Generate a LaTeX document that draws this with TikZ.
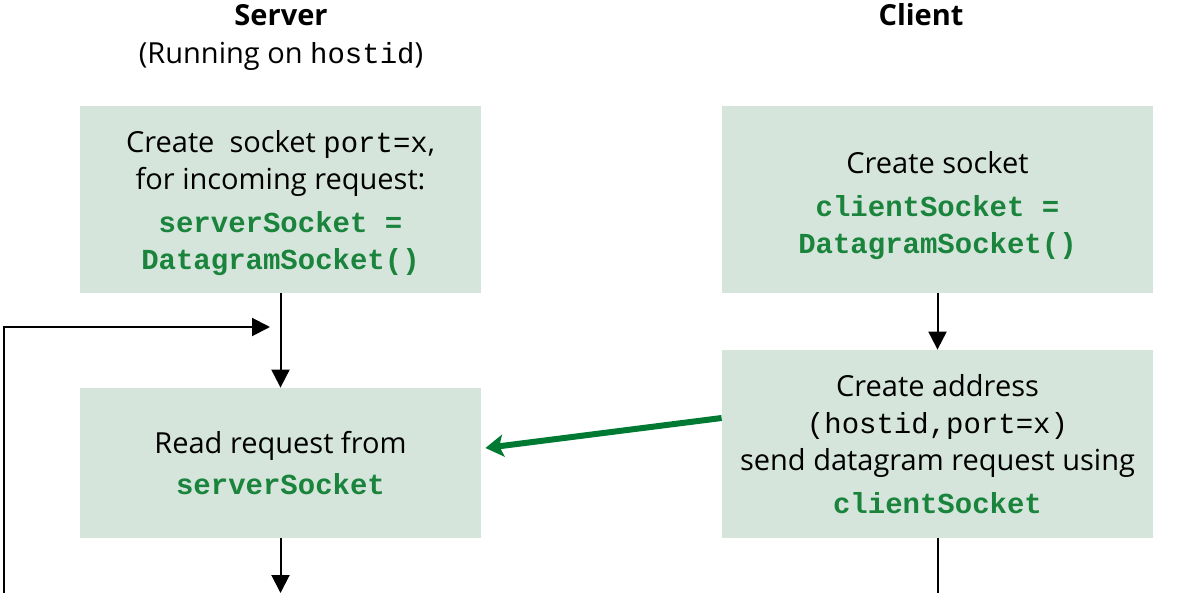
\documentclass[tikz,border=0pt]{standalone}
\usepackage{fontspec}
\setmainfont{Open Sans}
\setmonofont{Liberation Mono}
\usetikzlibrary{arrows.meta,positioning}
\definecolor{boxgreen}{RGB}{213,229,220}
\definecolor{codegreen}{RGB}{26,132,60}
\definecolor{arrowgreen}{RGB}{0,122,51}
\newcommand{\code}[1]{{\ttfamily\bfseries\color{codegreen}#1}}

\begin{document}
\begin{tikzpicture}
[x=0.5pt, y=-0.5pt,
txt/.style={font=\fontsize{14.5}{18.5}\selectfont, align=center, inner sep=0pt},
hdr/.style={txt, font=\fontsize{14.5}{18.5}\selectfont\bfseries},
stepbox/.style={txt, rectangle, fill=boxgreen, minimum width=200.5pt},
wide/.style={minimum width=215.5pt},
flow/.style={line width=1pt, -{Triangle[length=9pt, width=9pt]}},
>/.tip={Stealth[length=9pt, width=11pt, inset=2pt]}]

	\useasboundingbox (0,0) rectangle (1177,593);

	\node (srvhead) at (281,15) [hdr] {Server};
	\node (srvrun) at (281,56) [txt] {(Running on \texttt{hostid})};
	\node (clihead) at (921,15) [hdr] {Client};

	\node (mksock) at (280.5,199.5) [stepbox, minimum height=93.5pt] {\rule{0pt}{15pt}Create\ \ socket \texttt{port=x},\\ for incoming request:\\[3pt] \code{serverSocket =}\\ \code{DatagramSocket()}};
	\node (readreq) at (280.5,463) [stepbox, minimum height=75pt] {Read request from\\[2pt] \code{serverSocket}};

	\node (clisock) at (937.5,199.5) [stepbox, wide, minimum height=93.5pt] {\rule{0pt}{17pt}Create socket\\[3pt] \code{clientSocket =}\\ \code{DatagramSocket()}};
	\node (mkaddr) at (937.5,444) [stepbox, wide, minimum height=94pt] {Create address\\ \texttt{(hostid,port=x)}\\ send datagram request using\\[3pt] \code{clientSocket}};

	\coordinate (loopbot) at (4,593);
	\coordinate (loopin) at (270,327);
	\coordinate (srvout) at (280.5,593);
	\coordinate (cliout) at (937.5,593);

	\draw[flow] (mksock) -- (readreq);
	\draw[flow] (loopbot) |- (loopin);
	\draw[flow] (readreq.south) -- (srvout);
	\draw[flow] (clisock) -- (mkaddr);
	\draw[line width=1pt] (mkaddr.south) -- (cliout);

	\draw[->, arrowgreen, line width=3pt] ([yshift=13pt]mkaddr.west) -- ([xshift=2pt, yshift=7.5pt]readreq.east);

\end{tikzpicture}
\end{document}
